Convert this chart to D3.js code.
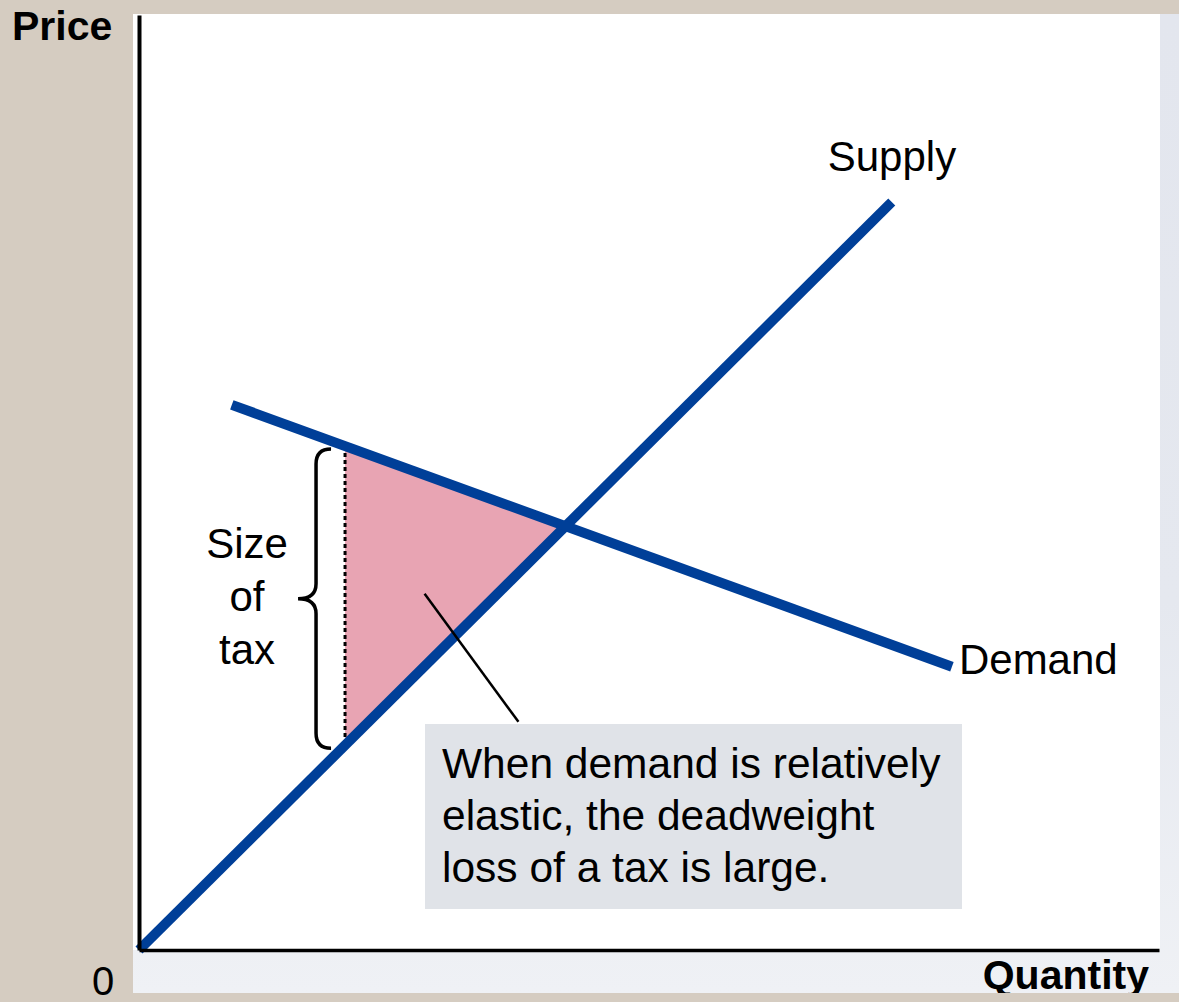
<!DOCTYPE html>
<html>
<head>
<meta charset="utf-8">
<script src="https://cdn.jsdelivr.net/npm/d3@7"></script>
<style>
  html, body { margin: 0; padding: 0; background: #d5ccc1; }
  svg { display: block; }
  text { font-family: "Liberation Sans", Arial, sans-serif; fill: #000; }
</style>
</head>
<body>
<svg id="chart" width="1179" height="1002"></svg>
<script>
// Curves (quantity, price) in chart units
const supplyPoints = [[0, 0], [73.8, 80.0]];
const demandPoints = [[9.1, 58.3], [79.7, 30.3]];

// Deadweight loss triangle: tax wedge quantity and the equilibrium point
const deadweightLoss = [[20.2, 53.9], [20.2, 21.9], [41.8, 45.3]];

// Tax wedge (price paid by buyers, price received by sellers)
const taxQuantity = 20.2;
const taxPrices = [53.9, 21.9];

// Pointer from the triangle to the note
const pointerPoints = [[28.0, 38.1], [37.2, 24.4]];

const curveLabels = ['Supply', 'Demand'];
const braceLines = ['Size', 'of', 'tax'];
const noteLines = ['When demand is relatively', 'elastic, the deadweight', 'loss of a tax is large.'];

const svg = d3.select('#chart');

// Scales
const x = d3.scaleLinear().domain([0, 100]).range([139, 1159]);
const y = d3.scaleLinear().domain([0, 100]).range([950, 15]);

// Panel with the soft grey-blue shading on the right and bottom
const defs = svg.append('defs');
const grad = defs.append('linearGradient')
  .attr('id', 'bottomShade')
  .attr('x1', 0).attr('y1', 0).attr('x2', 0).attr('y2', 1);
grad.append('stop').attr('offset', '0%').attr('stop-color', '#e3e6ee');
grad.append('stop').attr('offset', '60%').attr('stop-color', '#e5e8ef');
grad.append('stop').attr('offset', '100%').attr('stop-color', '#eff1f5');

svg.append('rect')
  .attr('x', 133).attr('y', 14)
  .attr('width', 1179 - 133).attr('height', 993 - 14)
  .attr('fill', 'url(#bottomShade)');

svg.append('rect')
  .attr('x', 133).attr('y', 14)
  .attr('width', 1160 - 133).attr('height', 950 - 14)
  .attr('fill', '#ffffff');

const line = d3.line()
  .x(d => x(d[0]))
  .y(d => y(d[1]));

// Deadweight loss area
svg.append('path')
  .datum(deadweightLoss)
  .attr('d', d3.line().x(d => x(d[0])).y(d => y(d[1])).curve(d3.curveLinearClosed))
  .attr('fill', '#e8a4b3');

// Dotted tax wedge
svg.append('line')
  .attr('x1', x(taxQuantity)).attr('x2', x(taxQuantity))
  .attr('y1', y(taxPrices[0])).attr('y2', y(taxPrices[1]))
  .attr('stroke', '#000')
  .attr('stroke-width', 3)
  .attr('stroke-dasharray', '4,3');

// Brace next to the wedge
const bTop = y(taxPrices[0]) + 3;
const bBot = y(taxPrices[1]) + 3;
const bMid = (bTop + bBot) / 2;
const bx = x(taxQuantity) - 29;   // vertical stroke of the brace
const r = 15;
const bracePath = [
  `M${bx + 15},${bTop}`,
  `Q${bx},${bTop} ${bx},${bTop + r}`,
  `L${bx},${bMid - r}`,
  `Q${bx},${bMid} ${bx - 18},${bMid}`,
  `Q${bx},${bMid} ${bx},${bMid + r}`,
  `L${bx},${bBot - r}`,
  `Q${bx},${bBot} ${bx + 15},${bBot}`
].join(' ');

svg.append('path')
  .attr('d', bracePath)
  .attr('fill', 'none')
  .attr('stroke', '#000')
  .attr('stroke-width', 3.5);

svg.append('text')
  .attr('text-anchor', 'middle')
  .attr('font-size', '42px')
  .selectAll('tspan')
  .data(braceLines)
  .join('tspan')
  .attr('x', 247)
  .attr('y', (d, i) => 558 + i * 53)
  .text(d => d);

// Supply and demand curves
svg.append('path')
  .datum(supplyPoints)
  .attr('d', line)
  .attr('fill', 'none')
  .attr('stroke', '#003f98')
  .attr('stroke-width', 10);

svg.append('path')
  .datum(demandPoints)
  .attr('d', line)
  .attr('fill', 'none')
  .attr('stroke', '#003f98')
  .attr('stroke-width', 10);

// Pointer to the note
svg.append('path')
  .datum(pointerPoints)
  .attr('d', line)
  .attr('fill', 'none')
  .attr('stroke', '#000')
  .attr('stroke-width', 2.5);

// Note box
svg.append('rect')
  .attr('x', 425).attr('y', 724)
  .attr('width', 962 - 425).attr('height', 909 - 724)
  .attr('fill', '#e0e3e8');

svg.append('text')
  .attr('font-size', '42.5px')
  .selectAll('tspan')
  .data(noteLines)
  .join('tspan')
  .attr('x', 442)
  .attr('y', (d, i) => 778 + i * 52)
  .text(d => d);

// Curve labels
const lastSupply = supplyPoints[supplyPoints.length - 1];
const lastDemand = demandPoints[demandPoints.length - 1];

svg.append('text')
  .attr('x', x(lastSupply[0]) - 64)
  .attr('y', y(lastSupply[1]) - 31)
  .attr('font-size', '42px')
  .text(curveLabels[0]);

svg.append('text')
  .attr('x', x(lastDemand[0]) + 7)
  .attr('y', y(lastDemand[1]) + 7)
  .attr('font-size', '42px')
  .text(curveLabels[1]);

// Axes (no ticks, just the frame lines)
svg.append('g')
  .attr('transform', `translate(0,${y(0)})`)
  .call(d3.axisBottom(x).tickValues([]).tickSizeOuter(0))
  .call(g => g.select('.domain').attr('stroke', '#000').attr('stroke-width', 3.5));

svg.append('g')
  .attr('transform', `translate(${x(0)},0)`)
  .call(d3.axisLeft(y).tickValues([]).tickSizeOuter(0))
  .call(g => g.select('.domain').attr('stroke', '#000').attr('stroke-width', 4));

// Axis titles
svg.append('text')
  .attr('x', 12).attr('y', 40)
  .attr('font-size', '41px')
  .attr('font-weight', 'bold')
  .text('Price');

svg.append('text')
  .attr('x', 1149).attr('y', 989)
  .attr('text-anchor', 'end')
  .attr('font-size', '41px')
  .attr('font-weight', 'bold')
  .text('Quantity');

svg.append('text')
  .attr('x', 92).attr('y', 995)
  .attr('font-size', '40px')
  .text('0');

// Beige strip below the panel clips the descender, as in the original
svg.append('rect')
  .attr('x', 133).attr('y', 993)
  .attr('width', 1179 - 133).attr('height', 9)
  .attr('fill', '#d5ccc1');
</script>
</body>
</html>
